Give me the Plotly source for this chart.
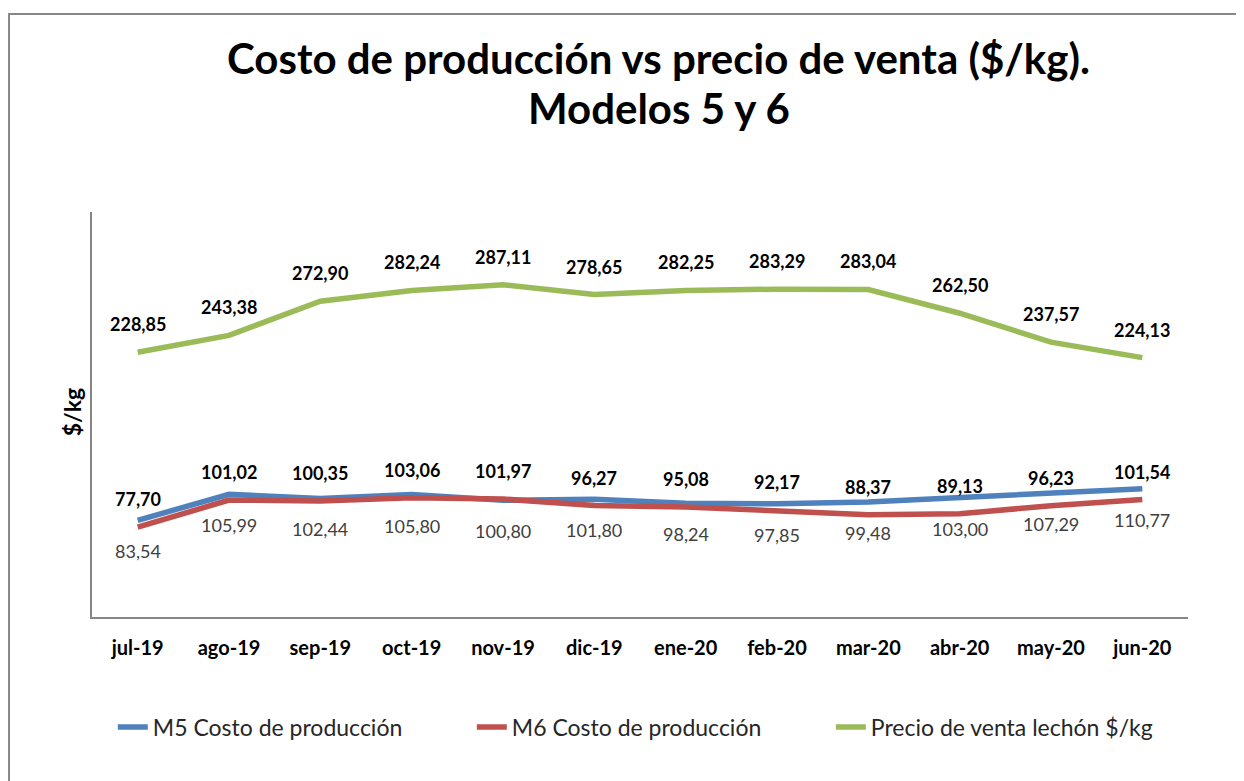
import plotly.graph_objects as go

months = ["jul-19", "ago-19", "sep-19", "oct-19", "nov-19", "dic-19",
          "ene-20", "feb-20", "mar-20", "abr-20", "may-20", "jun-20"]

# costo de produccion, modelo 5 (etiquetas en negrita) y modelo 6
m5_cost = [77.70, 101.02, 100.35, 103.06, 101.97, 96.27,
           95.08, 92.17, 88.37, 89.13, 96.23, 101.54]
m6_cost = [83.54, 105.99, 102.44, 105.80, 100.80, 101.80,
           98.24, 97.85, 99.48, 103.00, 107.29, 110.77]
# precio de venta lechon $/kg
price = [228.85, 243.38, 272.90, 282.24, 287.11, 278.65,
         282.25, 283.29, 283.04, 262.50, 237.57, 224.13]

BLUE = "#4F81BD"
RED = "#C0504D"
GREEN = "#9BBB59"
FONT = "Lato"


def fmt(v):
    return f"{v:.2f}".replace(".", ",")


fig = go.Figure()

# in the source sheet the line colours are swapped vs. the legend:
# the blue line follows the M6 numbers and the red one the M5 numbers
fig.add_trace(go.Scatter(x=months, y=m6_cost, mode="lines",
                         name="M5 Costo de producción",
                         line=dict(color=BLUE, width=5.5)))
fig.add_trace(go.Scatter(x=months, y=m5_cost, mode="lines",
                         name="M6 Costo de producción",
                         line=dict(color=RED, width=5.5)))
fig.add_trace(go.Scatter(x=months, y=price, mode="lines",
                         name="Precio de venta lechón $/kg",
                         line=dict(color=GREEN, width=5.5)))

annotations = []
for m, v in zip(months, price):
    annotations.append(dict(x=m, y=v, text=f"<b>{fmt(v)}</b>", showarrow=False,
                            yshift=28, font=dict(family=FONT, size=18, color="#000000")))
for m, v in zip(months, m5_cost):
    annotations.append(dict(x=m, y=v, text=f"<b>{fmt(v)}</b>", showarrow=False,
                            yshift=28, font=dict(family=FONT, size=18, color="#000000")))
for m, v in zip(months, m6_cost):
    annotations.append(dict(x=m, y=v, text=fmt(v), showarrow=False,
                            yshift=-31, font=dict(family=FONT, size=18, color="#404040")))

# title, two lines
annotations.append(dict(x=0.517, y=1.380, xref="paper", yref="paper",
                        text="<b>Costo de producción vs precio de venta ($/kg).</b>",
                        showarrow=False, xanchor="center", yanchor="middle",
                        font=dict(family=FONT, size=42, color="#000000")))
annotations.append(dict(x=0.517, y=1.257, xref="paper", yref="paper",
                        text="<b>Modelos 5 y 6</b>",
                        showarrow=False, xanchor="center", yanchor="middle",
                        font=dict(family=FONT, size=42, color="#000000")))

# y axis title
annotations.append(dict(x=-0.018, y=0.506, xref="paper", yref="paper",
                        text="<b>$/kg</b>", textangle=-90, showarrow=False,
                        xanchor="center", yanchor="middle",
                        font=dict(family=FONT, size=23, color="#000000")))

fig.update_layout(
    width=1236,
    height=773,
    margin=dict(l=84, r=56, t=204, b=164),
    paper_bgcolor="white",
    plot_bgcolor="white",
    xaxis=dict(
        type="category",
        range=[-0.5, 11.5],
        showline=True, linecolor="#868686", linewidth=2,
        showgrid=False, ticks="",
        tickfont=dict(family=FONT, size=20, color="#000000"),
        ticklabelstandoff=12,
        tickprefix="<b>", ticksuffix="</b>",
    ),
    yaxis=dict(
        range=[0, 350],
        showline=True, linecolor="#868686", linewidth=2,
        showgrid=False, zeroline=False, showticklabels=False, ticks="",
    ),
    legend=dict(
        orientation="h",
        x=0.019, xanchor="left",
        y=-0.272, yanchor="middle",
        entrywidth=314, entrywidthmode="pixels",
        font=dict(family=FONT, size=23, color="#262626"),
    ),
    showlegend=True,
    annotations=annotations,
    shapes=[dict(type="rect", xref="paper", yref="paper",
                 x0=-0.0757, x1=1.07, y0=-0.43, y1=1.489,
                 line=dict(color="#878787", width=2))],
)

fig.write_html("out.html")
